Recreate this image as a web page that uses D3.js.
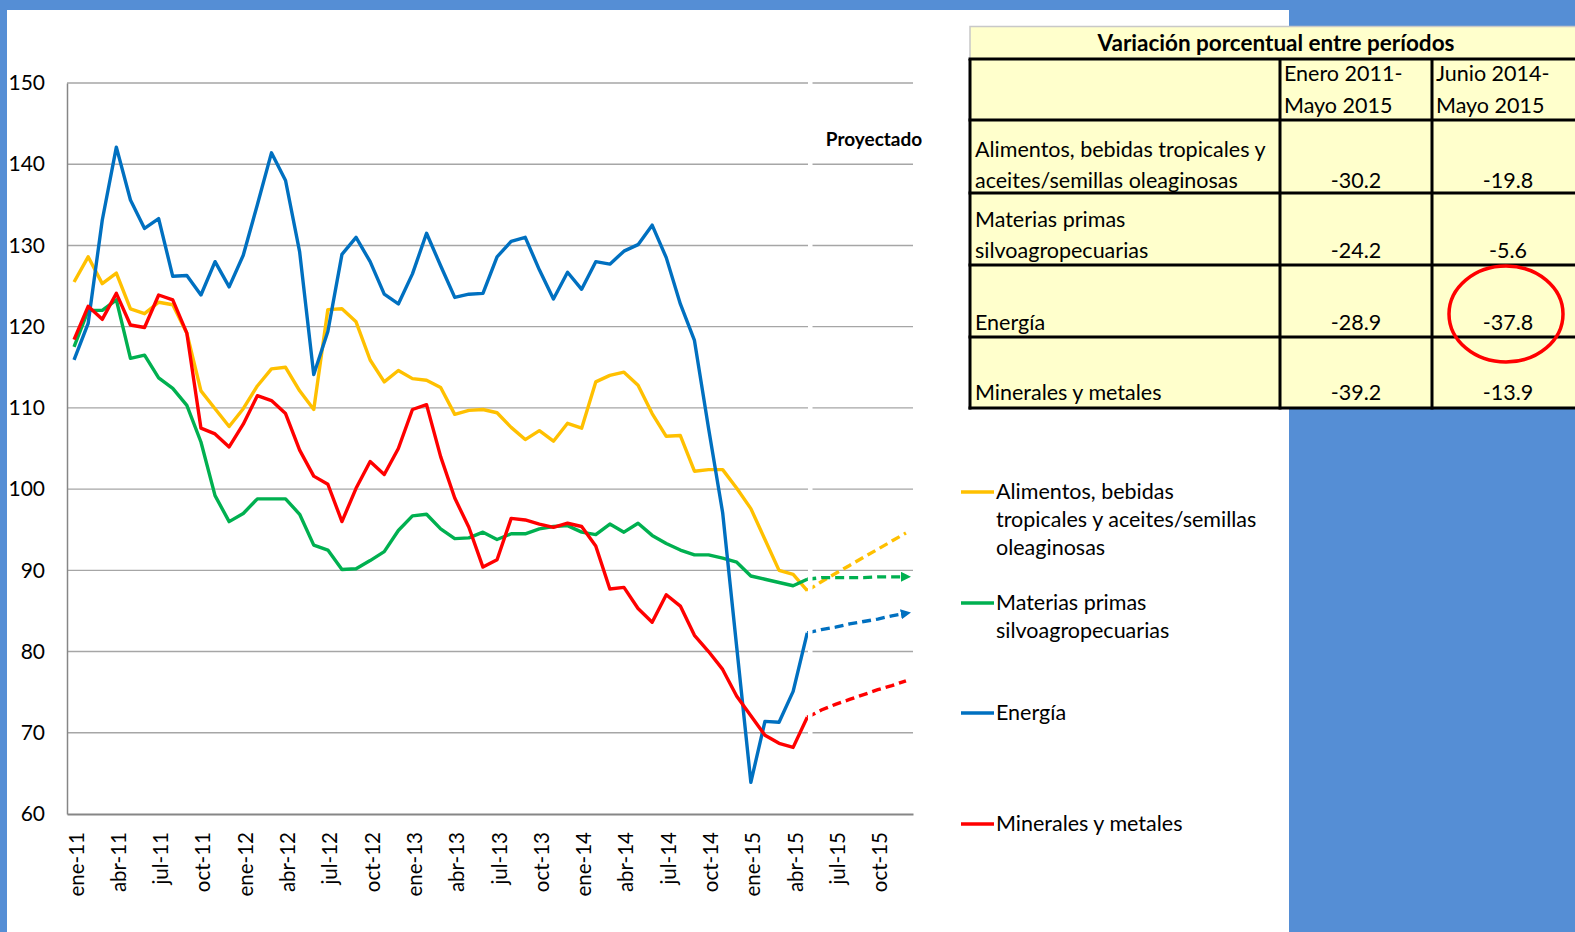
<!DOCTYPE html>
<html>
<head>
<meta charset="utf-8">
<script src="https://cdn.jsdelivr.net/npm/d3@7"></script>
<style>
  body { margin: 0; background: #558ed5; }
  svg { display: block; font-family: Lato, "Open Sans", sans-serif; }
</style>
</head>
<body>
<svg id="canvas" width="1575" height="932"></svg>
<script>
// ---------- data ----------
const monthNames = ["ene","feb","mar","abr","may","jun","jul","ago","sep","oct","nov","dic"];
const years = ["11","12","13","14","15"];
const months = years.flatMap(y => monthNames.map(m => `${m}-${y}`));   // ene-11 .. dic-15

const yTicks = [60, 70, 80, 90, 100, 110, 120, 130, 140, 150];

// observed, ene-11 .. may-15
const alimentos = [125.5,128.6,125.3,126.6,122.2,121.6,123.0,122.7,119.2,112.1,109.9,107.7,
  109.9,112.7,114.8,115.0,112.1,109.8,122.1,122.2,120.6,115.9,113.2,114.6,
  113.6,113.4,112.5,109.2,109.7,109.8,109.4,107.6,106.1,107.2,105.9,108.1,
  107.5,113.2,114.0,114.4,112.8,109.3,106.5,106.6,102.2,102.4,102.4,100.1,
  97.6,93.8,90.0,89.5,87.5];
const materias = [117.5,122.0,122.0,123.3,116.1,116.5,113.7,112.4,110.3,105.8,99.2,96.0,
  97.0,98.8,98.8,98.8,96.9,93.1,92.5,90.1,90.2,91.2,92.3,94.9,
  96.7,96.9,95.1,93.9,94.0,94.7,93.8,94.5,94.5,95.1,95.4,95.5,
  94.7,94.4,95.7,94.7,95.8,94.3,93.3,92.5,91.9,91.9,91.5,91.0,
  89.3,88.9,88.5,88.1,88.9];
const energia = [115.9,120.4,133.1,142.1,135.6,132.1,133.3,126.2,126.3,123.9,128.0,124.9,
  128.8,135.0,141.4,138.0,129.2,114.1,119.4,128.9,131.0,128.0,124.0,122.8,
  126.5,131.5,127.5,123.6,124.0,124.1,128.6,130.5,131.0,127.0,123.4,126.7,
  124.6,128.0,127.7,129.3,130.1,132.5,128.5,122.8,118.3,107.5,97.1,80.5,
  63.9,71.4,71.3,75.1,82.3];
const minerales = [118.4,122.5,120.9,124.1,120.2,119.9,123.9,123.3,119.2,107.5,106.8,105.2,
  108.0,111.5,110.9,109.3,104.8,101.6,100.6,96.0,100.1,103.4,101.8,105.0,
  109.8,110.4,104.0,98.9,95.3,90.4,91.3,96.4,96.2,95.7,95.3,95.8,
  95.4,93.0,87.7,87.9,85.3,83.6,87.0,85.6,82.0,80.0,77.8,74.5,
  72.1,69.7,68.7,68.2,71.9];

// projected, may-15 .. dic-15
const proyAlimentos = [87.5, 88.6, 89.6, 90.6, 91.6, 92.6, 93.6, 94.6];
const proyMaterias  = [88.9, 89.1, 89.1, 89.1, 89.1, 89.2, 89.2, 89.2];
const proyEnergia   = [82.3, 82.7, 83.0, 83.4, 83.7, 84.0, 84.4, 84.7];
const proyMinerales = [71.9, 72.8, 73.5, 74.1, 74.7, 75.3, 75.8, 76.4];

const seriesNames = [
  ["Alimentos, bebidas", "tropicales y aceites/semillas", "oleaginosas"],
  ["Materias primas", "silvoagropecuarias"],
  ["Energía"],
  ["Minerales y metales"]
];

// table
const tableTitle = "Variación porcentual entre períodos";
const tableHeads = [["Enero 2011-", "Mayo 2015"], ["Junio 2014-", "Mayo 2015"]];
const tableRows = [
  ["Alimentos, bebidas tropicales y", "aceites/semillas oleaginosas"],
  ["Materias primas", "silvoagropecuarias"],
  ["Energía"],
  ["Minerales y metales"]
];
const varTotal = ["-30.2", "-24.2", "-28.9", "-39.2"];
const varJunio = ["-19.8", "-5.6", "-37.8", "-13.9"];

// ---------- drawing ----------
const svg = d3.select("#canvas");
const colors = ["#ffc000", "#00b050", "#0070c0", "#ff0000"];
const observed = [alimentos, materias, energia, minerales];
const projected = [proyAlimentos, proyMaterias, proyEnergia, proyMinerales];
const fs = 21.5;   // body text size

// background panels
svg.append("rect").attr("x", 0).attr("y", 0).attr("width", 1575).attr("height", 932).attr("fill", "#558ed5");
svg.append("rect").attr("x", 7).attr("y", 10).attr("width", 1282).attr("height", 922).attr("fill", "#fff");

const x = d3.scalePoint().domain(months).range([67, 913]).padding(0.5);
const y = d3.scaleLinear().domain([60, 150]).range([814, 83]);

// grid
svg.append("g").selectAll("line").data(yTicks.filter(d => d > 60)).join("line")
  .attr("x1", 67).attr("x2", 913)
  .attr("y1", d => y(d)).attr("y2", d => y(d))
  .attr("stroke", "#a6a6a6").attr("stroke-width", 1.4);

// y axis
const yAxis = svg.append("g").attr("transform", "translate(67,0)")
  .call(d3.axisLeft(y).tickValues(yTicks).tickSize(0).tickPadding(22));
yAxis.select(".domain").attr("stroke", "#868686").attr("stroke-width", 1.5);
yAxis.selectAll("text").attr("font-size", 21).attr("fill", "#000")
  .attr("font-family", "Lato, 'Open Sans', sans-serif");

// x axis
const xAxis = svg.append("g").attr("transform", "translate(0,814)")
  .call(d3.axisBottom(x).tickValues(months.filter((d, i) => i % 3 === 0)).tickSize(0));
xAxis.select(".domain").attr("stroke", "#868686").attr("stroke-width", 2);
xAxis.selectAll("text")
  .attr("font-size", 20.5).attr("fill", "#000")
  .attr("font-family", "Lato, 'Open Sans', sans-serif")
  .attr("text-anchor", "end")
  .attr("transform", "rotate(-90)")
  .attr("x", -18).attr("y", 9).attr("dy", 0);

// arrowheads
const defs = svg.append("defs");
colors.forEach((c, i) => {
  defs.append("marker").attr("id", "arr" + i)
    .attr("viewBox", "0 0 10 10").attr("refX", 5).attr("refY", 5)
    .attr("markerWidth", 3).attr("markerHeight", 3).attr("orient", "auto")
    .append("path").attr("d", "M0,0L10,5L0,10Z").attr("fill", c);
});

const line = d3.line().x(d => x(d.m)).y(d => y(d.v));

observed.forEach((s, i) => {
  svg.append("path")
    .datum(s.map((v, j) => ({ m: months[j], v })))
    .attr("d", line).attr("fill", "none")
    .attr("stroke", colors[i]).attr("stroke-width", 3.4)
    .attr("stroke-linejoin", "round");
});

projected.forEach((s, i) => {
  const start = observed[i].length - 1;
  svg.append("path")
    .datum(s.map((v, j) => ({ m: months[start + j], v })))
    .attr("d", line).attr("fill", "none")
    .attr("stroke", colors[i]).attr("stroke-width", 3.4)
    .attr("stroke-dasharray", "9,5")
    .attr("marker-end", (i === 1 || i === 2) ? `url(#arr${i})` : null);
});

// separator between observed and projected
const sepX = x(months[52]) + 3;
svg.append("line").attr("x1", sepX).attr("x2", sepX).attr("y1", 78).attr("y2", 812)
  .attr("stroke", "#fff").attr("stroke-width", 4.5);

svg.append("text").attr("x", 874).attr("y", 146).attr("text-anchor", "middle")
  .attr("font-size", 19).attr("font-weight", "bold").text("Proyectado");

// legend
const legendY = [492, 603, 713, 824];
const legend = svg.append("g");
seriesNames.forEach((lines, i) => {
  legend.append("line").attr("x1", 961).attr("x2", 994)
    .attr("y1", legendY[i]).attr("y2", legendY[i])
    .attr("stroke", colors[i]).attr("stroke-width", 3.4);
  lines.forEach((t, k) => {
    legend.append("text").attr("x", 996).attr("y", legendY[i] + 7 + k * 28)
      .attr("font-size", fs).text(t);
  });
});

// table
const tb = svg.append("g");
const tLeft = 970, tRight = 1580;
const colX = [970, 1280, 1432];
const rowY = [59, 120, 193, 265, 337, 408];
tb.append("rect").attr("x", tLeft).attr("y", 26).attr("width", tRight - tLeft).attr("height", 408 - 26)
  .attr("fill", "#ffffcc");
tb.append("path").attr("d", `M${tLeft},59V26.5H${tRight}`)
  .attr("fill", "none").attr("stroke", "#c8c8c8").attr("stroke-width", 1.5);
tb.append("text").attr("x", 1276).attr("y", 51).attr("text-anchor", "middle")
  .attr("font-size", 22.5).attr("font-weight", "bold").text(tableTitle);
rowY.forEach(ry => {
  tb.append("line").attr("x1", tLeft - 1.5).attr("x2", tRight).attr("y1", ry).attr("y2", ry)
    .attr("stroke", "#000").attr("stroke-width", 3);
});
colX.forEach(cx => {
  tb.append("line").attr("x1", cx).attr("x2", cx).attr("y1", 59).attr("y2", 409.5)
    .attr("stroke", "#000").attr("stroke-width", 3);
});
tableHeads.forEach((h, c) => {
  h.forEach((t, k) => {
    tb.append("text").attr("x", colX[c + 1] + 4).attr("y", 81 + k * 32)
      .attr("font-size", fs).text(t);
  });
});
const rowBase = [188, 258, 330, 400];
tableRows.forEach((lines, r) => {
  lines.forEach((t, k) => {
    tb.append("text").attr("x", 975).attr("y", rowBase[r] - (lines.length - 1 - k) * 31)
      .attr("font-size", fs).text(t);
  });
  tb.append("text").attr("x", 1356).attr("y", rowBase[r]).attr("text-anchor", "middle")
    .attr("font-size", fs).text(varTotal[r]);
  tb.append("text").attr("x", 1508).attr("y", rowBase[r]).attr("text-anchor", "middle")
    .attr("font-size", fs).text(varJunio[r]);
});

// highlight ring around the energy figure
tb.append("ellipse").attr("cx", 1506).attr("cy", 314).attr("rx", 57).attr("ry", 48)
  .attr("fill", "none").attr("stroke", "#ff0000").attr("stroke-width", 3.5);
</script>
</body>
</html>
